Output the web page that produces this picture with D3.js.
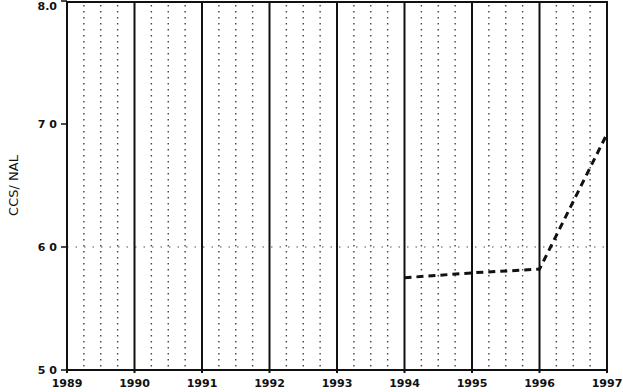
<!DOCTYPE html>
<html><head><meta charset="utf-8">
<script src="https://cdn.jsdelivr.net/npm/d3@7"></script>
<style>body{margin:0;background:#fff}svg{display:block}text{font-family:"DejaVu Sans",sans-serif;fill:#111}</style>
</head><body><svg id="c" width="623" height="392"></svg>
<script>
const years = [1989,1990,1991,1992,1993,1994,1995,1996,1997];
const yTicks = [5.0,6.0,7.0,8.0];
const yTickLabels = ["5 0","6 0","7 0","8.0"];
const seriesYears = [1994,1995,1996,1997];
const seriesValues = [5.75,5.79,5.82,6.92];
const yTitle = "CCS/ NAL";

const svg = d3.select("#c");
const m = {l:67, r:607, t:1, b:370};
const x = d3.scaleLinear().domain([1989,1997]).range([m.l,m.r]);
const y = d3.scaleLinear().domain([5,8]).range([m.b,m.t]);

// dotted quarter lines
const quarters = [];
for (let i=0;i<years.length-1;i++) for (let q=1;q<4;q++) quarters.push(years[i]+q/4);
svg.append("g").selectAll("line").data(quarters).join("line")
  .attr("x1",d=>x(d)).attr("x2",d=>x(d)).attr("y1",y(8)+4).attr("y2",y(5)-3)
  .attr("stroke","#444").attr("stroke-width",1.4).attr("stroke-dasharray","1.5,4.5");
// horizontal dotted at 6.0
svg.append("line").attr("x1",m.l).attr("x2",m.r).attr("y1",y(6)).attr("y2",y(6))
  .attr("stroke","#555").attr("stroke-width",1.2).attr("stroke-dasharray","1.5,7");

// solid year lines
svg.append("g").selectAll("line").data(years).join("line")
  .attr("x1",d=>x(d)).attr("x2",d=>x(d)).attr("y1",y(8)).attr("y2",y(5)+3)
  .attr("stroke","#111").attr("stroke-width",2);
// top and bottom borders
svg.append("line").attr("x1",m.l).attr("x2",m.r).attr("y1",y(8)+1).attr("y2",y(8)+1).attr("stroke","#111").attr("stroke-width",2);
svg.append("line").attr("x1",m.l).attr("x2",m.r).attr("y1",y(5)).attr("y2",y(5)).attr("stroke","#111").attr("stroke-width",2);

// y ticks
const ya = svg.append("g");
ya.selectAll("line").data(yTicks).join("line")
  .attr("x1",m.l-6).attr("x2",m.l).attr("y1",d=>y(d)).attr("y2",d=>y(d)).attr("stroke","#111").attr("stroke-width",1.5);
ya.selectAll("text").data(yTicks).join("text")
  .attr("x",m.l-10).attr("y",d=>Math.max(y(d)+4,10)).attr("text-anchor","end")
  .attr("font-size",11).attr("font-weight","bold").text((d,i)=>yTickLabels[i]);

// x labels
svg.append("g").selectAll("text").data(years).join("text")
  .attr("x",d=>x(d)).attr("y",387).attr("text-anchor","middle")
  .attr("font-size",11).attr("font-weight","bold").text(d=>d);

// y title
svg.append("text").attr("transform",`translate(18,${y(6.5)}) rotate(-90)`)
  .attr("text-anchor","middle").attr("font-size",13).text(yTitle);

// series
const line = d3.line().x((d,i)=>x(seriesYears[i])).y(d=>y(d));
svg.append("path").datum(seriesValues).attr("d",line)
  .attr("fill","none").attr("stroke","#111").attr("stroke-width",3).attr("stroke-dasharray","7,5");
</script></body></html>
